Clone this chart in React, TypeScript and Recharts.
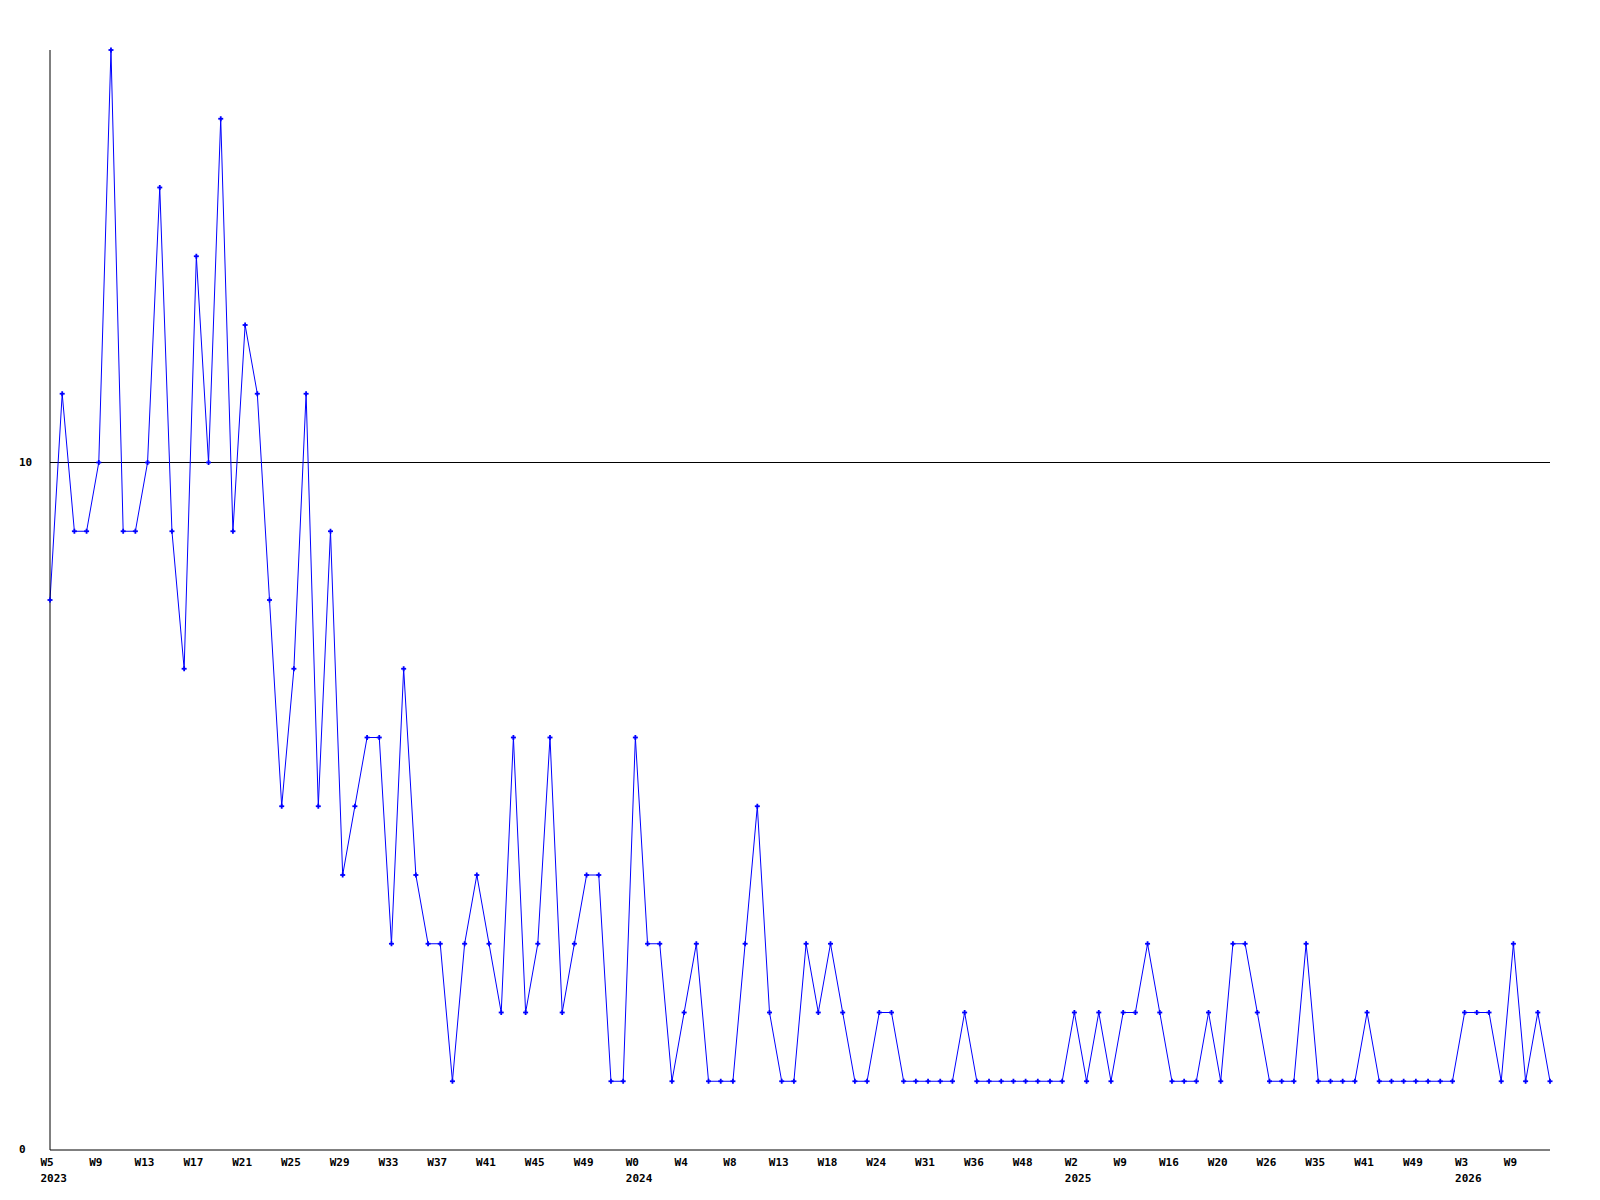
import React from 'react';
import { LineChart, Line, XAxis, YAxis, ReferenceLine } from 'recharts';

// weekly counts, one point per week
const counts = [
  8, 11, 9, 9, 10, 16, 9, 9, 10, 14, 9, 7, 13, 10, 15, 9, 12, 11, 8, 5,
  7, 11, 5, 9, 4, 5, 6, 6, 3, 7, 4, 3, 3, 1, 3, 4, 3, 2, 6, 2,
  3, 6, 2, 3, 4, 4, 1, 1, 6, 3, 3, 1, 2, 3, 1, 1, 1, 3, 5, 2,
  1, 1, 3, 2, 3, 2, 1, 1, 2, 2, 1, 1, 1, 1, 1, 2, 1, 1, 1, 1,
  1, 1, 1, 1, 2, 1, 2, 1, 2, 2, 3, 2, 1, 1, 1, 2, 1, 3, 3, 2,
  1, 1, 1, 3, 1, 1, 1, 1, 2, 1, 1, 1, 1, 1, 1, 1, 2, 2, 2, 1,
  3, 1, 2, 1,
];

// every 4th week gets a label
const weekLabels = [
  'W5', 'W9', 'W13', 'W17', 'W21', 'W25', 'W29', 'W33', 'W37', 'W41', 'W45', 'W49',
  'W0', 'W4', 'W8', 'W13', 'W18', 'W24', 'W31', 'W36', 'W48',
  'W2', 'W9', 'W16', 'W20', 'W26', 'W35', 'W41', 'W49',
  'W3', 'W9',
];
const yearLabels = { 0: '2023', 12: '2024', 21: '2025', 29: '2026' };
const yTicks = [0, 10];

const data = counts.map((v, i) => ({ i, v }));
const xTicks = weekLabels.map((_, k) => k * 4);

const FONT = "'DejaVu Sans Mono', monospace";
const CHAR_W = 6.6;

const XTick = ({ x, y, payload }) => {
  const k = payload.value / 4;
  const lbl = weekLabels[k];
  const yr = yearLabels[k];
  const cx = x - 3;
  const left = cx - (lbl.length * CHAR_W) / 2;
  return (
    <g>
      <text x={cx} y={y + 8} textAnchor="middle" fontFamily={FONT} fontSize={11} fontWeight="bold" fill="#000">
        {lbl}
      </text>
      {yr && (
        <text x={left} y={y + 24} textAnchor="start" fontFamily={FONT} fontSize={11} fontWeight="bold" fill="#000">
          {yr}
        </text>
      )}
    </g>
  );
};

const YTick = ({ y, payload }) => (
  <text x={19} y={y + 3} textAnchor="start" fontFamily={FONT} fontSize={11} fontWeight="bold" fill="#000">
    {payload.value}
  </text>
);

const Marker = ({ cx, cy, index }) => (
  <g key={index}>
    <line x1={cx - 2.5} y1={cy} x2={cx + 2.5} y2={cy} stroke="#0000ff" strokeWidth={1.8} />
    <line x1={cx} y1={cy - 2.5} x2={cx} y2={cy + 2.5} stroke="#0000ff" strokeWidth={1.8} />
  </g>
);

export default function App() {
  return (
    <div style={{ position: 'absolute', left: 0, top: 0, background: '#fff' }}>
      <LineChart width={1600} height={1200} data={data} margin={{ top: 50, right: 50, left: 0, bottom: 0 }}>
        <XAxis
          dataKey="i"
          type="number"
          domain={[0, counts.length - 1]}
          ticks={xTicks}
          interval={0}
          tick={<XTick />}
          tickLine={false}
          axisLine={{ stroke: '#000' }}
          height={50}
        />
        <YAxis
          type="number"
          domain={[0, 16]}
          ticks={yTicks}
          tick={<YTick />}
          tickLine={false}
          axisLine={{ stroke: '#000' }}
          width={50}
        />
        <ReferenceLine y={10} stroke="#000" />
        <Line
          type="linear"
          dataKey="v"
          stroke="#0000ff"
          strokeWidth={1}
          dot={<Marker />}
          activeDot={false}
          isAnimationActive={false}
        />
      </LineChart>
    </div>
  );
}
